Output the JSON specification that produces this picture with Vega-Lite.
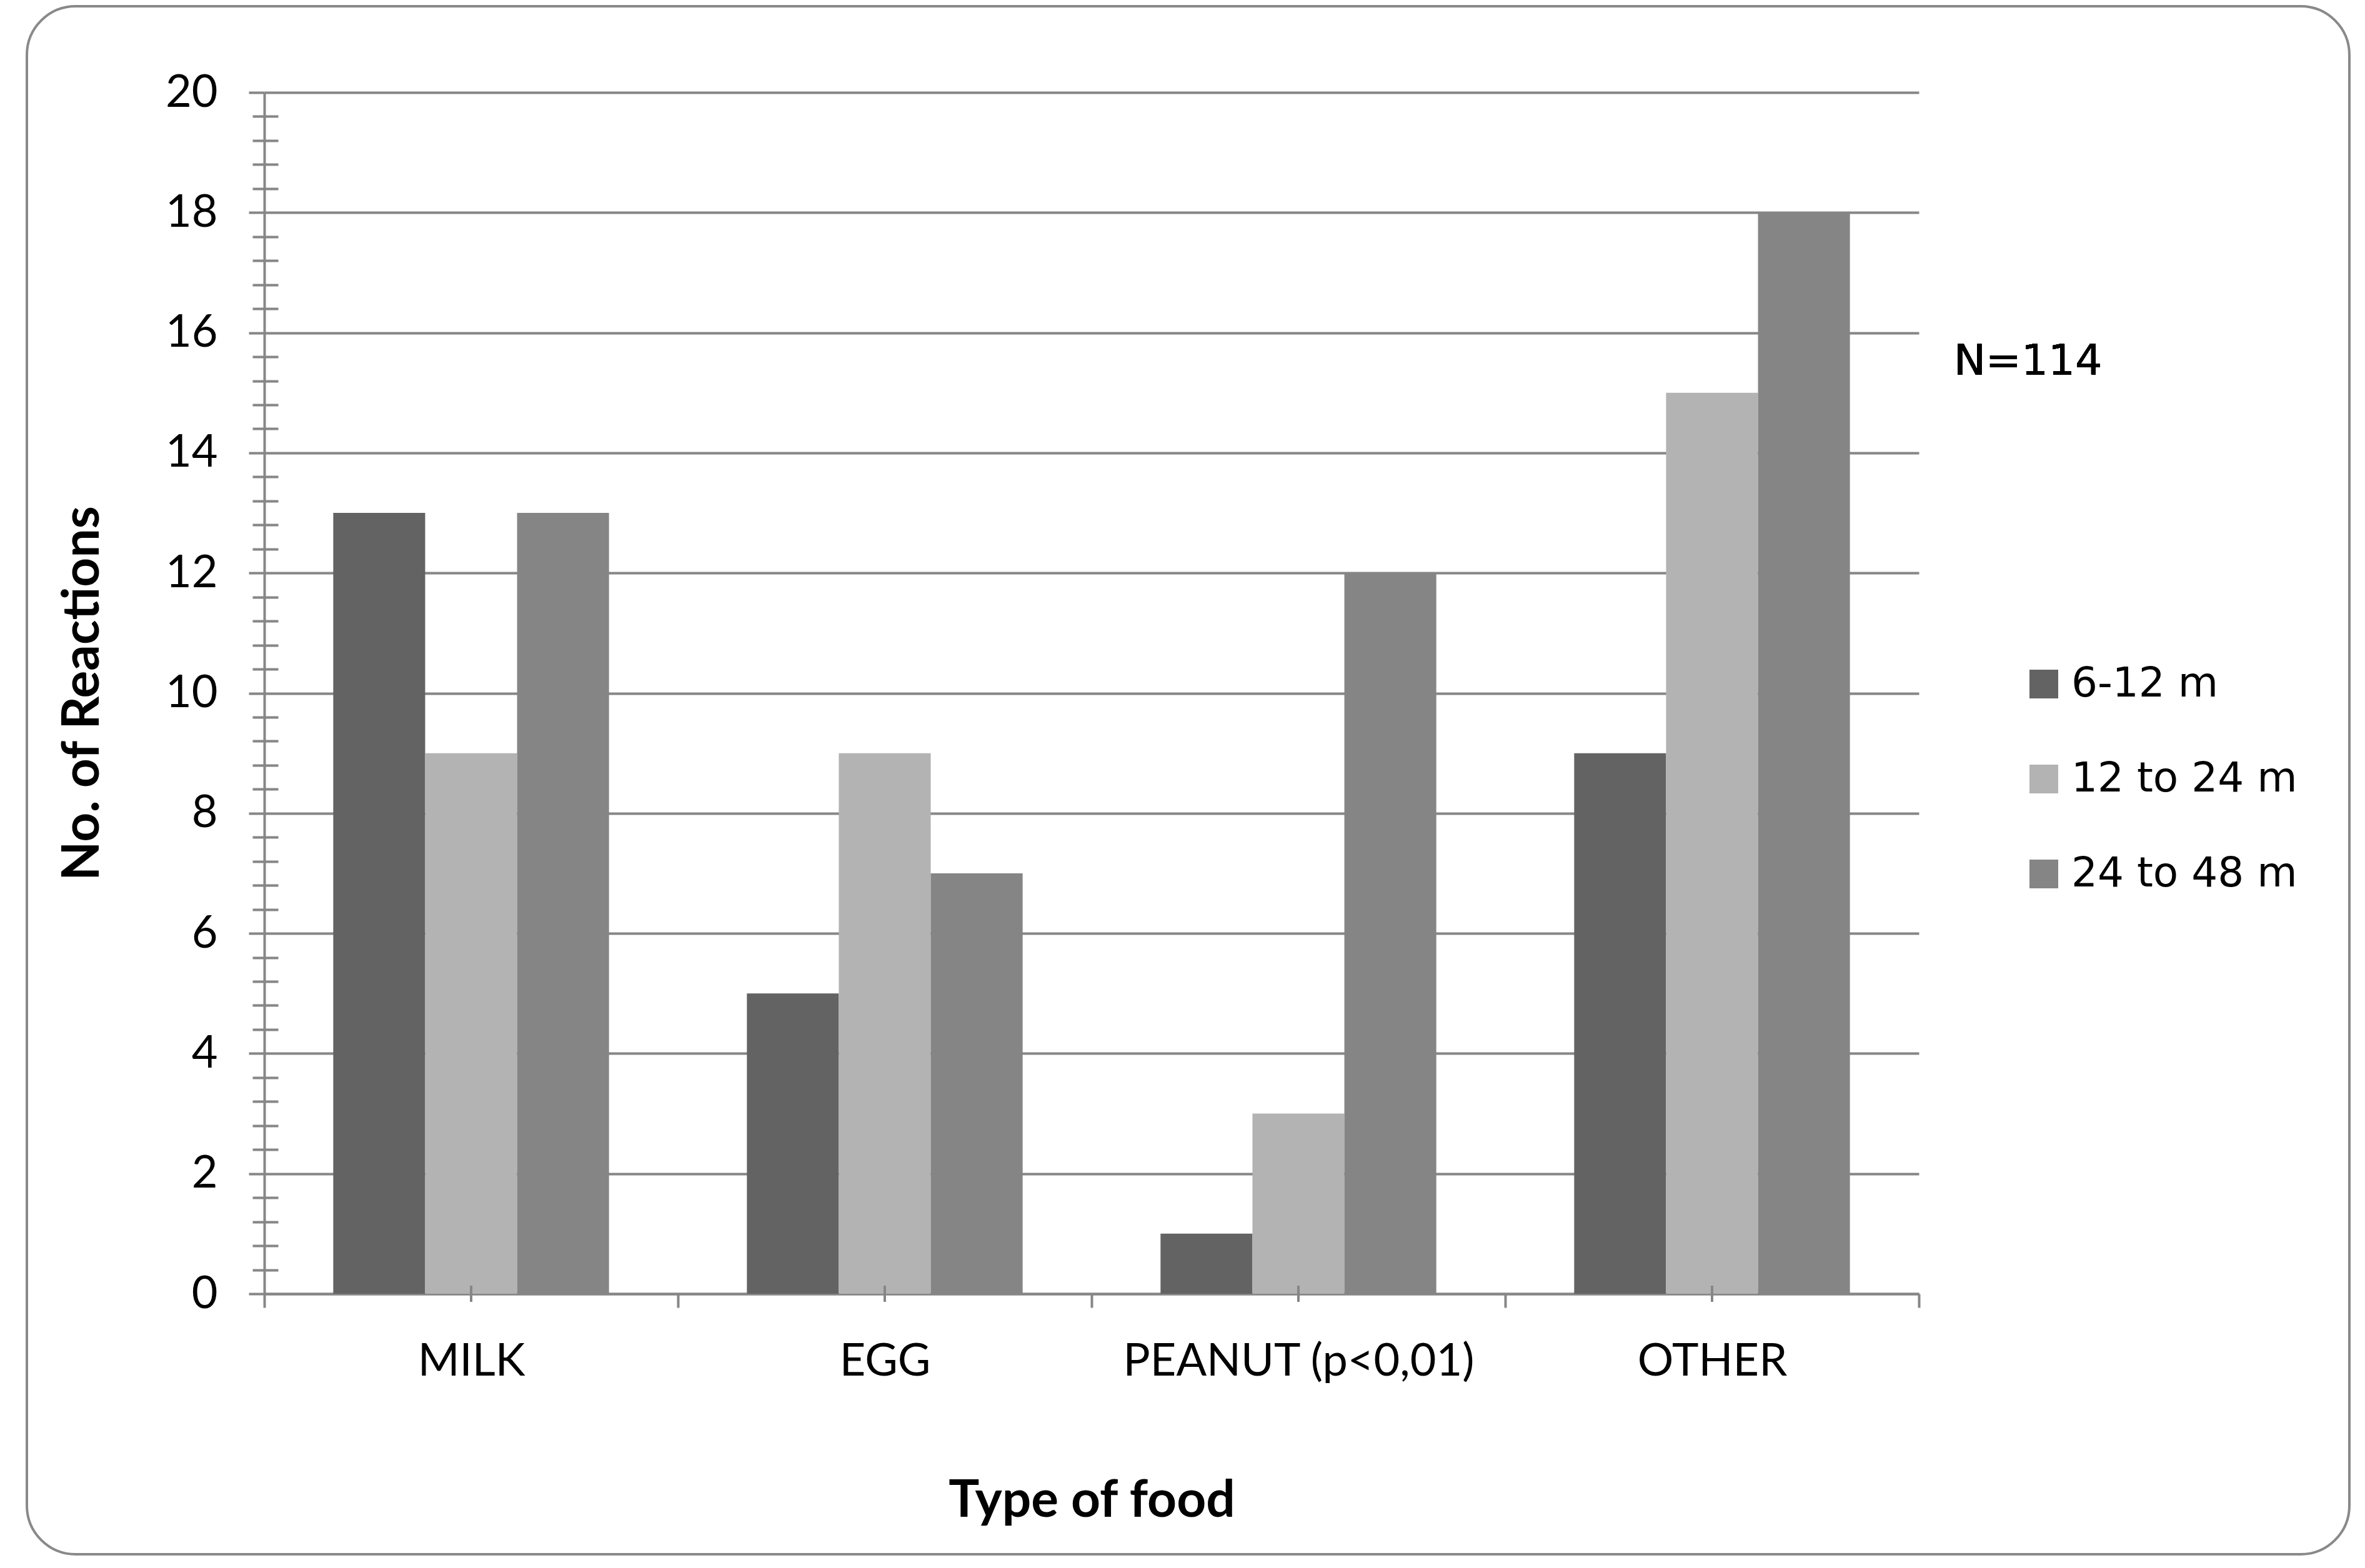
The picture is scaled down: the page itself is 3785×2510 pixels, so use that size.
{
  "$schema": "https://vega.github.io/schema/vega-lite/v6.json",
  "width": 3717,
  "height": 2478,
  "autosize": {"type": "none"},
  "padding": {"left": 43, "top": 10, "right": 25, "bottom": 22},
  "background": "white",
  "config": {
    "view": {"stroke": "#898989", "strokeWidth": 4, "cornerRadius": 78},
    "axis": {"labelColor": "black", "titleColor": "black"}
  },
  "data": {
    "values": [
      {"food": "MILK", "group": "6-12 m", "count": 13},
      {"food": "MILK", "group": "12 to 24 m", "count": 9},
      {"food": "MILK", "group": "24 to 48 m", "count": 13},
      {"food": "EGG", "group": "6-12 m", "count": 5},
      {"food": "EGG", "group": "12 to 24 m", "count": 9},
      {"food": "EGG", "group": "24 to 48 m", "count": 7},
      {"food": "PEANUT (p<0,01)", "group": "6-12 m", "count": 1},
      {"food": "PEANUT (p<0,01)", "group": "12 to 24 m", "count": 3},
      {"food": "PEANUT (p<0,01)", "group": "24 to 48 m", "count": 12},
      {"food": "OTHER", "group": "6-12 m", "count": 9},
      {"food": "OTHER", "group": "12 to 24 m", "count": 15},
      {"food": "OTHER", "group": "24 to 48 m", "count": 18}
    ]
  },
  "resolve": {"axis": {"x": "independent", "y": "independent"}},
  "layer": [
    {
      "mark": {"type": "bar"},
      "encoding": {
        "x": {
          "field": "food", "type": "nominal",
          "sort": ["MILK", "EGG", "PEANUT (p<0,01)", "OTHER"],
          "scale": {"range": [380, 3028], "paddingInner": 0, "paddingOuter": 0},
          "axis": {
            "orient": "bottom",
            "title": "Type of food", "titleFont": "Lato", "titleFontWeight": "bold", "titleFontSize": 82, "titlePadding": 147,
            "labelFont": "Lato", "labelFontSize": 72, "labelAngle": 0, "labelPadding": 51, "labelLimit": 1000, "labelOverlap": false,
            "tickBand": "extent", "tickSize": 22, "tickWidth": 4, "tickColor": "#868686",
            "domainColor": "#868686", "domainWidth": 4, "grid": false, "offset": -417
          }
        },
        "xOffset": {
          "field": "group", "type": "nominal",
          "sort": ["6-12 m", "12 to 24 m", "24 to 48 m"],
          "scale": {"paddingInner": 0, "paddingOuter": 0.75}
        },
        "y": {
          "field": "count", "type": "quantitative",
          "scale": {"domain": [0, 20], "range": [2061, 138], "nice": false},
          "axis": {
            "orient": "left",
            "title": "No. of Reactions", "titleFont": "Lato", "titleFontWeight": "bold", "titleFontSize": 82, "titlePadding": 90,
            "labelFont": "Lato", "labelFontSize": 72, "labelPadding": 50,
            "values": [0, 2, 4, 6, 8, 10, 12, 14, 16, 18, 20],
            "tickSize": 25, "tickWidth": 4, "tickColor": "#868686",
            "domainColor": "#868686", "domainWidth": 4,
            "grid": true, "gridColor": "#868686", "gridWidth": 4, "offset": -380
          }
        },
        "color": {
          "field": "group", "type": "nominal",
          "sort": ["6-12 m", "12 to 24 m", "24 to 48 m"],
          "scale": {"domain": ["6-12 m", "12 to 24 m", "24 to 48 m"], "range": ["#636363", "#b3b3b3", "#858585"]},
          "legend": {
            "title": null, "orient": "none", "legendX": 3195, "legendY": 1052,
            "symbolType": "square", "symbolSize": 2116, "symbolStrokeWidth": 0, "symbolOpacity": 1,
            "labelFont": "DejaVu Sans", "labelFontSize": 66, "labelColor": "black", "labelOffset": 11,
            "rowPadding": 86, "labelLimit": 1000
          }
        }
      }
    },
    {
      "mark": {"type": "tick", "orient": "vertical", "color": "#868686", "size": 26, "thickness": 4, "opacity": 1},
      "encoding": {
        "x": {"field": "food", "type": "nominal", "sort": ["MILK", "EGG", "PEANUT (p<0,01)", "OTHER"], "axis": null},
        "y": {
          "datum": 0, "type": "quantitative",
          "axis": {
            "orient": "left",
            "title": null, "labels": false, "domain": false, "grid": false,
            "values": [0.4, 0.8, 1.2, 1.6, 2.4, 2.8, 3.2, 3.6, 4.4, 4.8, 5.2, 5.6, 6.4, 6.8, 7.2, 7.6, 8.4, 8.8, 9.2, 9.6, 10.4, 10.8, 11.2, 11.6, 12.4, 12.8, 13.2, 13.6, 14.4, 14.8, 15.2, 15.6, 16.4, 16.8, 17.2, 17.6, 18.4, 18.8, 19.2, 19.6],
            "tickSize": 41, "tickWidth": 4, "tickColor": "#868686", "offset": -402
          }
        }
      }
    },
    {
      "mark": {"type": "text", "text": "N=114", "font": "DejaVu Sans", "fontSize": 68, "color": "black", "align": "left", "baseline": "alphabetic", "dx": 56},
      "encoding": {
        "x": {"datum": "OTHER", "bandPosition": 1, "axis": null},
        "y": {"datum": 15.3, "type": "quantitative", "axis": null}
      }
    }
  ]
}
